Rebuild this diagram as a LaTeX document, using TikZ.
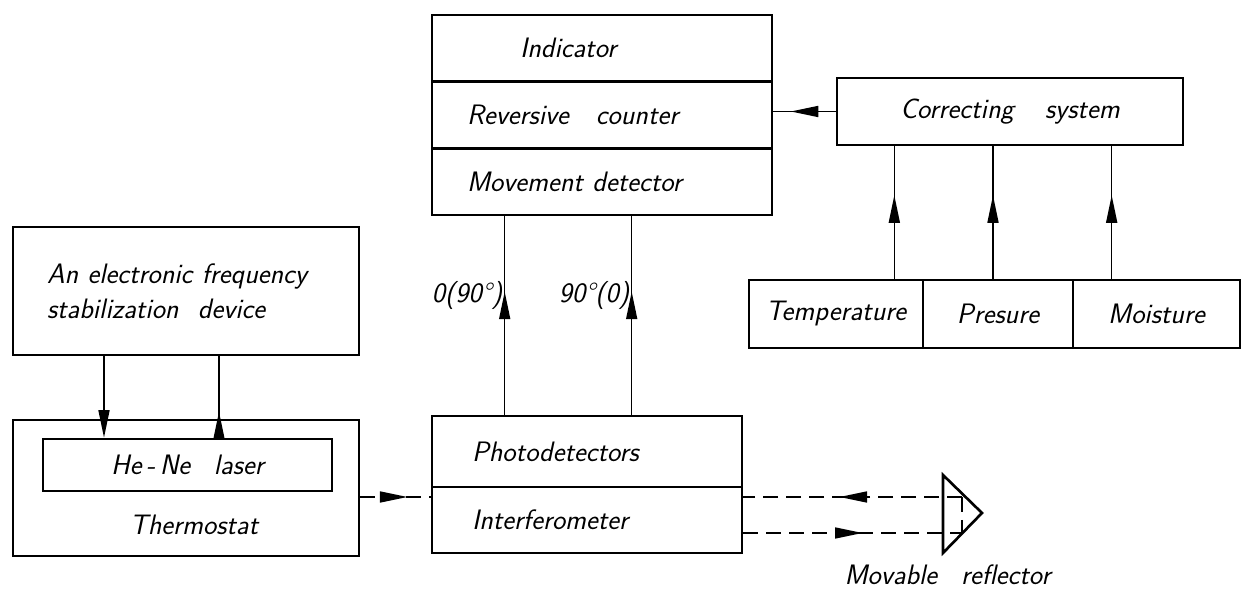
\documentclass[tikz,border=0pt]{standalone}
\usepackage{fontspec}
\usetikzlibrary{arrows.meta}
\usetikzlibrary{decorations.markings}

\begin{document}
\begin{tikzpicture}[
    font=\fontsize{16}{20}\selectfont\sffamily\slshape,
    block/.style={draw, line width=1.5pt, inner ysep=0pt},
    link/.style={line width=0.9pt},
    beam/.style={line width=0.9pt, dash pattern=on 3mm off 1.6mm},
    tipmid/.style={postaction={decorate}, decoration={markings,
        mark=at position #1 with {\arrow{Triangle[length=5.5mm,width=2.2mm]}}}}]

    \useasboundingbox (0,0) rectangle (24.84,11.84);

    % Bloco superior: indicador, contador, detector
    \node[block, minimum width=6.8cm, minimum height=1.333cm, text width=5.4cm, inner xsep=0.7cm, align=left] (ind) at (12.04,10.873) {\hspace*{1.06cm}Indicator};
    \node[block, minimum width=6.8cm, minimum height=1.333cm, text width=5.4cm, inner xsep=0.7cm, align=left] (rev) at (12.04,9.54) {Reversive\hspace{0.35cm} counter};
    \node[block, minimum width=6.8cm, minimum height=1.333cm, text width=5.4cm, inner xsep=0.7cm, align=left] (mov) at (12.04,8.207) {Movement detector};

    % Sistema de correcao e sensores
    \node[block, minimum width=6.92cm, minimum height=1.34cm] (corr) at (20.2,9.61) {Correcting\hspace{0.45cm} system};
    \node[block, minimum width=3.48cm, minimum height=1.36cm] (temp) at (16.72,5.56) {Temperature};
    \node[block, minimum width=3.0cm, minimum height=1.36cm] (pres) at (19.96,5.56) {Presure};
    \node[block, minimum width=3.34cm, minimum height=1.36cm] (moist) at (23.13,5.56) {Moisture};

    % Estabilizacao, laser, termostato
    \node[block, minimum width=6.92cm, minimum height=2.56cm, text width=5.56cm, inner xsep=0.68cm, align=left] (stab) at (3.72,6.02) {An electronic frequency\\ stabilization\hspace{0.2cm} device\\[-0.2cm]};
    \node[block, minimum width=6.92cm, minimum height=2.72cm] (thermo) at (3.72,2.08) {};
    \node[block, minimum width=5.78cm, minimum height=1.04cm] (laser) at (3.75,2.54) {He\,-\,Ne\hspace{0.3cm} laser};
    \node (thermolab) at (3.88,1.34) {Thermostat};

    % Bloco inferior: fotodetectores e interferometro
    \node[block, minimum width=6.2cm, minimum height=1.42cm, text width=4.6cm, inner xsep=0.8cm, align=left] (photo) at (11.74,2.81) {Photodetectors};
    \node[block, minimum width=6.2cm, minimum height=1.32cm, text width=4.6cm, inner xsep=0.8cm, align=left] (inter) at (11.74,1.44) {Interferometer};

    % Refletor movel
    \coordinate (rin) at (19.24,1.9);
    \coordinate (rout) at (19.24,1.18);
    \draw[line width=1.5pt] (18.86,2.34) -- (19.64,1.58) -- (18.86,0.78) -- cycle;
    \node (refllab) at (18.95,0.34) {Movable\hspace{0.3cm} reflector};

    % Ligacoes
    \draw[link, tipmid=0.72] (corr.west) -- (corr.west -| rev.east);
    \draw[link, tipmid=0.63] ([xshift=-0.6cm]temp.north east) -- ([xshift=-0.6cm]temp.north east |- corr.south);
    \draw[link, tipmid=0.63] ([xshift=-0.1cm]pres.north) -- ([xshift=-0.1cm]pres.north |- corr.south);
    \draw[link, tipmid=0.63] ([xshift=0.8cm]moist.north west) -- ([xshift=0.8cm]moist.north west |- corr.south);

    \draw[link, -{Triangle[length=5.5mm,width=2.2mm]}] ([xshift=-1.64cm]stab.south) -- ([xshift=-1.64cm]stab.south |- laser.north);
    \draw[link, tipmid=0.32] ([xshift=0.66cm]stab.south |- laser.north) -- ([xshift=0.66cm]stab.south);

    \draw[link, tipmid=0.62] ([xshift=1.48cm]photo.north west) -- ([xshift=1.48cm]photo.north west |- mov.south)
        node[pos=0.6, left, inner sep=1pt] {0(90°)};
    \draw[link, tipmid=0.62] ([xshift=4.02cm]photo.north west) -- ([xshift=4.02cm]photo.north west |- mov.south)
        node[pos=0.6, left, inner sep=1pt] {90°(0)};

    % Feixes
    \draw[beam, tipmid=0.67] ([yshift=-0.18cm]thermo.east) -- ([yshift=-0.18cm]thermo.east -| inter.west);
    \draw[beam, tipmid=0.56] (rin) -- (rin -| inter.east);
    \draw[beam, tipmid=0.545] (rout -| inter.east) -- (rout);
    \draw[beam] (rin) -- (rout);

\end{tikzpicture}
\end{document}
